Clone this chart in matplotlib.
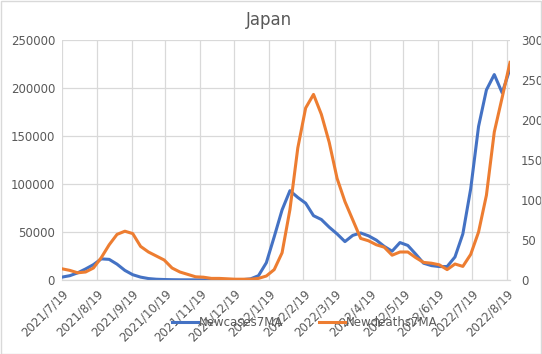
import pandas as pd
import matplotlib
matplotlib.use("Agg")
import matplotlib.pyplot as plt
import matplotlib.dates as mdates
from matplotlib.patches import Rectangle

OUTPUT_PATH = "out.png"

START_DATE = "2021-07-19"
END_DATE = "2022-08-22"

# weekly 7-day moving averages (one value per week from 2021/7/19)
new_cases_7ma = [
    3000, 4500, 7500, 11500, 16000, 22000, 21500, 16500, 10000, 5500,
    3000, 1500, 800, 500, 300, 200, 170, 150, 130, 130,
    140, 150, 200, 350, 1200, 4500, 18000, 45000, 73000, 93000,
    86000, 80000, 67000, 63000, 55000, 48000, 40000, 46500, 49000, 46000,
    41500, 35000, 30000, 39000, 36000, 27000, 17500, 15000, 14000, 14000,
    24000, 48000, 95000, 160000, 198000, 214000, 195000, 220000,
]
new_deaths_7ma = [
    14, 12, 9, 10, 15, 28, 44, 57, 61, 58,
    42, 35, 30, 25, 15, 10, 7, 4, 3.5, 2,
    2, 1.5, 1, 1, 1, 2, 5, 13, 34, 88,
    165, 215, 232, 207, 172, 127, 98, 75, 52, 49,
    44, 41, 31, 35, 35, 28, 22, 21, 19, 13,
    20, 17, 32, 60, 106, 185, 228, 272,
]

tick_labels = [
    "2021/7/19", "2021/8/19", "2021/9/19", "2021/10/19", "2021/11/19",
    "2021/12/19", "2022/1/19", "2022/2/19", "2022/3/19", "2022/4/19",
    "2022/5/19", "2022/6/19", "2022/7/19", "2022/8/19",
]

BLUE = "#4472C4"
ORANGE = "#ED7D31"
GRID = "#D9D9D9"
TEXT = "#595959"


def main():
    dates = pd.date_range(START_DATE, periods=len(new_cases_7ma), freq="7D")
    tick_dates = pd.to_datetime(tick_labels, format="%Y/%m/%d")

    fig = plt.figure(figsize=(5.42, 3.54), dpi=100)
    ax = fig.add_axes([62 / 542, 1 - 280 / 354, 448 / 542, 240 / 354])
    ax2 = ax.twinx()

    l1, = ax.plot(dates, new_cases_7ma, color=BLUE, lw=2.2, label="Newcases7MA",
                  solid_joinstyle="round", zorder=3)
    l2, = ax2.plot(dates, new_deaths_7ma, color=ORANGE, lw=2.2, label="Newdeaths7MA",
                   solid_joinstyle="round", zorder=3)

    ax.set_xlim(pd.Timestamp(START_DATE), pd.Timestamp(END_DATE))
    ax.set_ylim(0, 250000)
    ax2.set_ylim(0, 300)
    ax.set_yticks(range(0, 250001, 50000))
    ax2.set_yticks(range(0, 301, 50))

    ax.set_xticks(tick_dates)
    ax.set_xticklabels(tick_labels, rotation=45, ha="right", rotation_mode="anchor")

    ax.grid(True, color=GRID, lw=0.9)
    ax.set_axisbelow(True)
    for a in (ax, ax2):
        for side in ("top", "left", "right"):
            a.spines[side].set_visible(False)
        a.spines["bottom"].set_color(GRID)
        a.tick_params(length=0, colors=TEXT, labelsize=8.5)
    ax.tick_params(axis="y", pad=5)
    ax.tick_params(axis="x", pad=5)
    ax2.tick_params(axis="y", pad=8)

    fig.text(0.497, 1 - 20 / 354, "Japan", ha="center", va="center", fontsize=12, color=TEXT)

    leg = fig.legend(handles=[l1, l2], loc="center", bbox_to_anchor=(305 / 542, 1 - 323 / 354),
                     ncol=2, frameon=False, fontsize=8.5, handlelength=2.2,
                     columnspacing=3.0, handletextpad=0.1, labelcolor=TEXT)
    leg.set_zorder(10)

    fig.patches.append(Rectangle((0.5 / 542, 0.5 / 354), 1 - 1.5 / 542, 1 - 1.5 / 354,
                                 transform=fig.transFigure, fill=False, edgecolor=GRID, lw=1))

    plt.savefig(OUTPUT_PATH, dpi=100)
    plt.close()


if __name__ == "__main__":
    main()
